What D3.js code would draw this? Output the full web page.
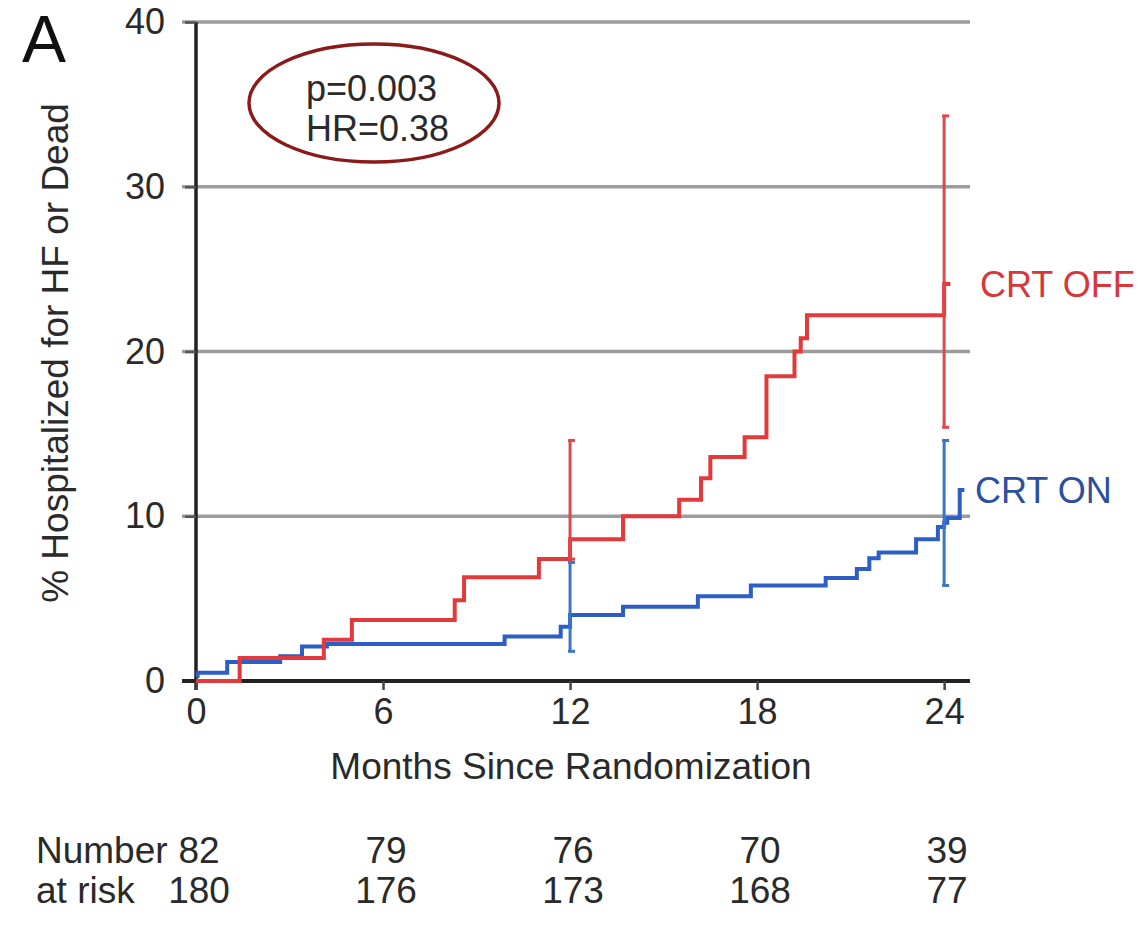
<!DOCTYPE html>
<html>
<head>
<meta charset="utf-8">
<script src="https://cdn.jsdelivr.net/npm/d3@7"></script>
<style>
  html, body { margin: 0; padding: 0; background: #fff; }
  svg { display: block; font-family: "Liberation Sans", Arial, Helvetica, sans-serif; }
</style>
</head>
<body>
<svg id="chart" width="1141" height="932"></svg>
<script>
// Kaplan–Meier cumulative event curves (% hospitalized for HF or dead)
const offMonths = [0, 1.4, 4.1, 5.0, 8.3, 8.6, 11.0, 12.0, 13.7, 15.5, 16.2, 16.5, 17.6, 18.3, 19.2, 19.4, 19.6, 24.0, 24.2];
const offValues = [0, 1.4, 2.5, 3.7, 4.9, 6.3, 7.4, 8.6, 10.0, 11.0, 12.3, 13.6, 14.8, 18.5, 20.0, 20.8, 22.2, 24.1, 24.1];

const onMonths = [0, 0.05, 1.0, 2.7, 3.4, 4.2, 9.9, 11.7, 12.0, 13.7, 16.1, 17.8, 20.2, 21.2, 21.6, 21.9, 23.1, 23.8, 24.0, 24.1, 24.5, 24.65];
const onValues = [0.3, 0.5, 1.15, 1.5, 2.1, 2.25, 2.7, 3.3, 4.0, 4.5, 5.15, 5.8, 6.25, 6.8, 7.45, 7.8, 8.6, 9.35, 9.6, 9.9, 11.6, 11.6];

// Confidence interval bars
const ciMonths = [12, 24];
const offLower = [7.4, 15.4];
const offUpper = [14.6, 34.3];
const onLower = [1.8, 5.8];
const onUpper = [7.2, 14.6];

// Axis ticks
const xTicks = [0, 6, 12, 18, 24];
const yTicks = [0, 10, 20, 30, 40];

// Number at risk table
const riskMonths = [0, 6, 12, 18, 24];
const offAtRisk = [82, 79, 76, 70, 39];
const onAtRisk = [180, 176, 173, 168, 77];

const seriesNames = ["CRT OFF", "CRT ON"];
const statLines = ["p=0.003", "HR=0.38"];

const red = "#e23a3c";
const blue = "#2d5ec6";
const ink = "#222";

const svg = d3.select("#chart");

const x = d3.scaleLinear().domain([0, 24.83]).range([196, 970]);
const y = d3.scaleLinear().domain([0, 40]).range([681, 22]);

// horizontal gridlines
svg.append("g")
  .selectAll("line")
  .data(yTicks.filter(v => v > 0))
  .join("line")
  .attr("x1", 182).attr("x2", x.range()[1])
  .attr("y1", d => y(d)).attr("y2", d => y(d))
  .attr("stroke", "#9c9c9c")
  .attr("stroke-width", 3.5);

// y axis
const yAxis = svg.append("g")
  .attr("transform", `translate(${x(0)},0)`)
  .call(d3.axisLeft(y).tickValues(yTicks).tickSize(11).tickSizeOuter(0).tickPadding(20));
yAxis.select(".domain").attr("stroke", ink).attr("stroke-width", 3.5)
  .attr("d", `M0,${y(40)}V${y(0) + 9}`);
yAxis.selectAll(".tick line").attr("stroke", "#555").attr("stroke-width", 2.5);
yAxis.selectAll(".tick text")
  .attr("font-size", 36).attr("fill", "#2a2a2a")
  .attr("font-family", "Liberation Sans, Arial, sans-serif");

// x axis
const xAxis = svg.append("g")
  .attr("transform", `translate(0,${y(0)})`)
  .call(d3.axisBottom(x).tickValues(xTicks).tickSize(9).tickSizeOuter(0).tickPadding(8));
xAxis.select(".domain").attr("stroke", ink).attr("stroke-width", 4)
  .attr("d", `M182,0H${x.range()[1]}`);
xAxis.selectAll(".tick line").attr("stroke", "#444").attr("stroke-width", 2.5);
xAxis.selectAll(".tick text")
  .attr("font-size", 36).attr("fill", "#2a2a2a")
  .attr("font-family", "Liberation Sans, Arial, sans-serif");

// step curves
const step = d3.line()
  .x(d => x(d[0]))
  .y(d => y(d[1]))
  .curve(d3.curveStepAfter);

svg.append("path")
  .datum(onMonths.map((m, i) => [m, onValues[i]]))
  .attr("d", step)
  .attr("fill", "none")
  .attr("stroke", blue)
  .attr("stroke-width", 4);

svg.append("path")
  .datum(offMonths.map((m, i) => [m, offValues[i]]))
  .attr("d", step)
  .attr("fill", "none")
  .attr("stroke", red)
  .attr("stroke-width", 4);

// confidence interval bars with small caps
function ciBars(lower, upper, color) {
  const g = svg.append("g").attr("stroke", color).attr("stroke-width", 3).attr("fill", "none");
  ciMonths.forEach((m, i) => {
    const cx = x(m);
    g.append("line").attr("x1", cx).attr("x2", cx).attr("y1", y(lower[i])).attr("y2", y(upper[i]));
    g.append("line").attr("x1", cx - 2).attr("x2", cx + 5).attr("y1", y(lower[i])).attr("y2", y(lower[i]));
    g.append("line").attr("x1", cx - 2).attr("x2", cx + 5).attr("y1", y(upper[i])).attr("y2", y(upper[i]));
  });
}
ciBars(offLower, offUpper, "#e0474b");
ciBars(onLower, onUpper, "#3a76c4");

// series labels at the end of each curve
svg.append("text")
  .attr("x", 980).attr("y", y(offValues[offValues.length - 1]) + 13)
  .attr("font-size", 36).attr("fill", "#d8373a")
  .text(seriesNames[0]);
svg.append("text")
  .attr("x", 975).attr("y", y(onValues[onValues.length - 1]) + 13)
  .attr("font-size", 36).attr("fill", "#2c4f9e")
  .text(seriesNames[1]);

// statistics callout
svg.append("ellipse")
  .attr("cx", 374).attr("cy", 103).attr("rx", 125).attr("ry", 59)
  .attr("fill", "none").attr("stroke", "#8b1a1a").attr("stroke-width", 3.5);
svg.append("g")
  .selectAll("text")
  .data(statLines)
  .join("text")
  .attr("x", 306)
  .attr("y", (d, i) => 101 + i * 40)
  .attr("font-size", 36).attr("fill", "#2a2a2a")
  .text(d => d);

// panel letter
svg.append("text")
  .attr("x", 22).attr("y", 62)
  .attr("font-size", 66).attr("fill", "#111")
  .text("A");

// axis titles
svg.append("text")
  .attr("transform", `translate(68,${353}) rotate(-90)`)
  .attr("text-anchor", "middle")
  .attr("font-size", 37).attr("fill", "#2a2a2a")
  .text("% Hospitalized for HF or Dead");

svg.append("text")
  .attr("x", 571).attr("y", 779)
  .attr("text-anchor", "middle")
  .attr("font-size", 37).attr("fill", "#2a2a2a")
  .text("Months Since Randomization");

// number at risk
svg.append("text").attr("x", 36).attr("y", 863).attr("font-size", 37).attr("fill", "#2a2a2a").text("Number");
svg.append("text").attr("x", 36).attr("y", 903).attr("font-size", 37).attr("fill", "#2a2a2a").text("at risk");

svg.append("g")
  .selectAll("text")
  .data(offAtRisk)
  .join("text")
  .attr("x", (d, i) => x(riskMonths[i]) + 3)
  .attr("y", 863)
  .attr("text-anchor", "middle")
  .attr("font-size", 37).attr("fill", "#2a2a2a")
  .text(d => d);

svg.append("g")
  .selectAll("text")
  .data(onAtRisk)
  .join("text")
  .attr("x", (d, i) => x(riskMonths[i]) + 3)
  .attr("y", 903)
  .attr("text-anchor", "middle")
  .attr("font-size", 37).attr("fill", "#2a2a2a")
  .text(d => d);
</script>
</body>
</html>
